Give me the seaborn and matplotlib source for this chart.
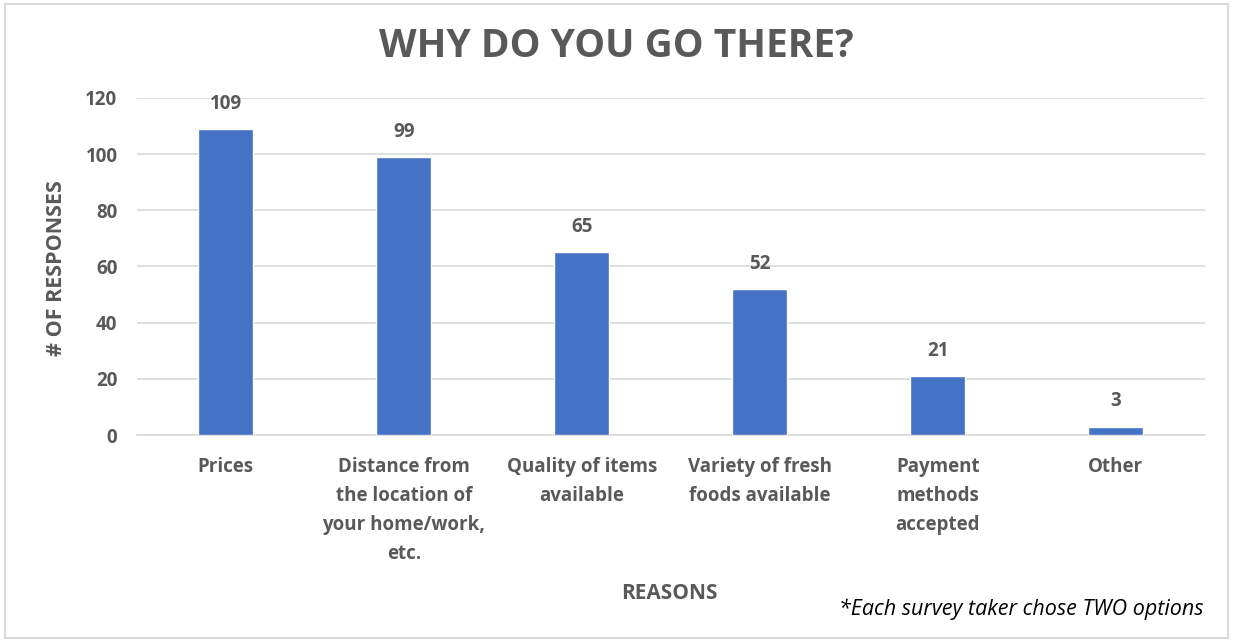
import matplotlib
matplotlib.use("Agg")
import matplotlib.pyplot as plt
import matplotlib.patches as mpatches
import pandas as pd
import seaborn as sns

# data
reasons = ["Prices",
           "Distance from\nthe location of\nyour home/work,\netc.",
           "Quality of items\navailable",
           "Variety of fresh\nfoods available",
           "Payment\nmethods\naccepted",
           "Other"]
responses = [109, 99, 65, 52, 21, 3]
y_ticks = [0, 20, 40, 60, 80, 100, 120]

df = pd.DataFrame({"reason": reasons, "responses": responses})

sns.set_style("white")
plt.rcParams['font.family'] = ['Open Sans', 'DejaVu Sans']
txt = "#595959"

fig = plt.figure(figsize=(12.33, 6.42), dpi=100)
ax = fig.add_axes([0.111, 0.3224, 0.866, 0.525])

sns.barplot(data=df, x="reason", y="responses", color="#4472C4",
            width=0.31, saturation=1, ax=ax, zorder=3)

for i, v in enumerate(responses):
    ax.annotate(str(v), (i, v), xytext=(0, 11), textcoords="offset points",
                ha="center", va="bottom", fontsize=13.5, fontweight="bold", color=txt)

ax.set_ylim(0, 120)
ax.set_yticks(y_ticks)
ax.set_xlim(-0.5, len(reasons) - 0.5)
ax.yaxis.grid(True, color="#D9D9D9", linewidth=1.2, zorder=0)
ax.set_axisbelow(True)
for s in ["top", "right", "left"]:
    ax.spines[s].set_visible(False)
ax.spines["bottom"].set_color("#D9D9D9")
ax.spines["bottom"].set_linewidth(1.2)
ax.tick_params(axis="both", length=0, labelsize=13.5, labelcolor=txt, pad=14)
for lab in ax.get_xticklabels() + ax.get_yticklabels():
    lab.set_fontweight("bold")
for lab in ax.get_xticklabels():
    lab.set_linespacing(1.6)
ax.tick_params(axis="x", pad=16)
ax.set_xlabel("")
ax.set_ylabel("")

fig.text(0.5, 0.928, "WHY DO YOU GO THERE?", ha="center", va="center",
         fontsize=28, fontweight="bold", color=txt)
fig.text(0.046, 0.5826, "# OF RESPONSES", rotation=90, ha="center", va="center",
         fontsize=15.5, fontweight="bold", color=txt)
fig.text(0.543, 0.076, "REASONS", ha="center", va="center",
         fontsize=15, fontweight="bold", color=txt)
fig.text(0.976, 0.051, "*Each survey taker chose TWO options", ha="right", va="center",
         fontsize=15.5, style="italic", color="black")

border = mpatches.Rectangle((0.004, 0.006), 0.992, 0.988, transform=fig.transFigure,
                            fill=False, edgecolor="#D9D9D9", linewidth=1.5)
fig.patches.append(border)

fig.savefig("out.png", dpi=100)
